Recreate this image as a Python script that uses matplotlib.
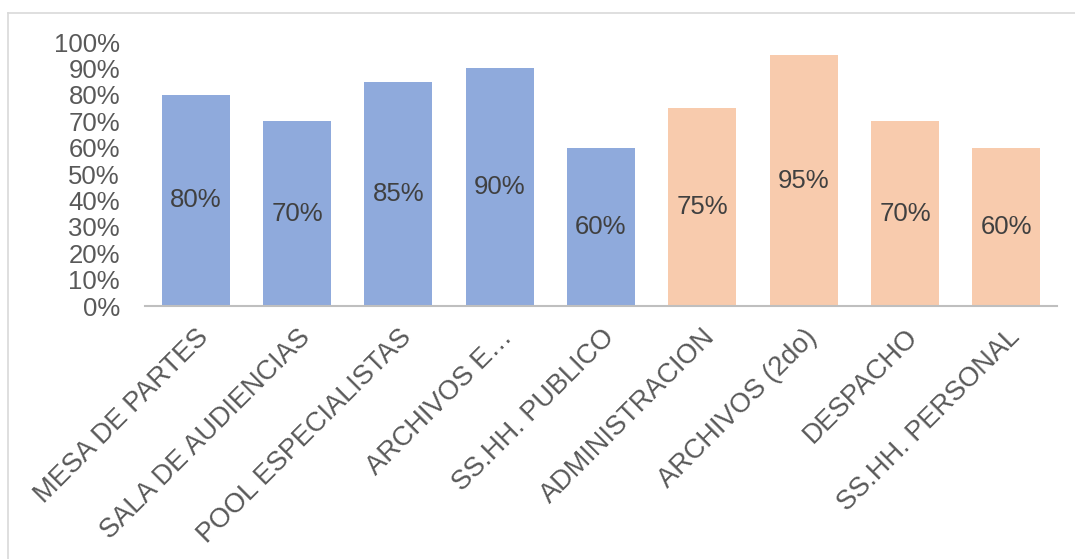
import matplotlib
matplotlib.use("Agg")
import matplotlib.pyplot as plt
from matplotlib.lines import Line2D

categories = ["MESA DE PARTES", "SALA DE AUDIENCIAS", "POOL ESPECIALISTAS",
              "ARCHIVOS E…", "SS.HH. PUBLICO", "ADMINISTRACION",
              "ARCHIVOS (2do)", "DESPACHO", "SS.HH. PERSONAL"]
values = [0.80, 0.70, 0.85, 0.90, 0.60, 0.75, 0.95, 0.70, 0.60]
groups = ["blue", "blue", "blue", "blue", "blue", "orange", "orange", "orange", "orange"]
yticks = [i / 10 for i in range(11)]
ytick_labels = [f"{i*10}%" for i in range(11)]

palette = {"blue": "#8FAADC", "orange": "#F8CBAD"}
text_color = "#595959"
plt.rcParams['font.family'] = ['Liberation Sans', 'DejaVu Sans']

W, H = 1075, 559
fig = plt.figure(figsize=(W / 100, H / 100), dpi=100)
ax = fig.add_axes([145 / W, 1 - 306 / H, (1057 - 145) / W, (306 - 42) / H])

x = list(range(len(categories)))
bars = ax.bar(x, values, width=0.67, color=[palette[g] for g in groups], zorder=2)
for xi, v in zip(x, values):
    ax.text(xi, v / 2, f"{int(round(v*100))}%", ha="center", va="center",
            fontsize=18.5, color="#404040")

ax.set_xlim(-0.5, len(categories) - 0.5)
ax.set_ylim(0, 1)
ax.set_yticks(yticks)
ax.set_yticklabels(ytick_labels, fontsize=18.5, color=text_color)
ax.tick_params(axis="y", length=0, pad=18)
ax.set_xticks(x)
ax.set_xticklabels(categories, rotation=45, ha="right", rotation_mode="anchor",
                   fontsize=19.5, color=text_color)
ax.tick_params(axis="x", length=0, pad=13)
for s in ["top", "right", "left"]:
    ax.spines[s].set_visible(False)
ax.spines["bottom"].set_color("#BFBFBF")
ax.spines["bottom"].set_linewidth(1.5)

# outer chart border (only top and left visible in the reference)
fig.add_artist(Line2D([8 / W, 1], [1 - 13 / H, 1 - 13 / H], transform=fig.transFigure,
                      color="#D9D9D9", lw=1.2))
fig.add_artist(Line2D([8 / W, 8 / W], [0, 1 - 13 / H], transform=fig.transFigure,
                      color="#D9D9D9", lw=1.2))

fig.savefig("out.png", dpi=100)
